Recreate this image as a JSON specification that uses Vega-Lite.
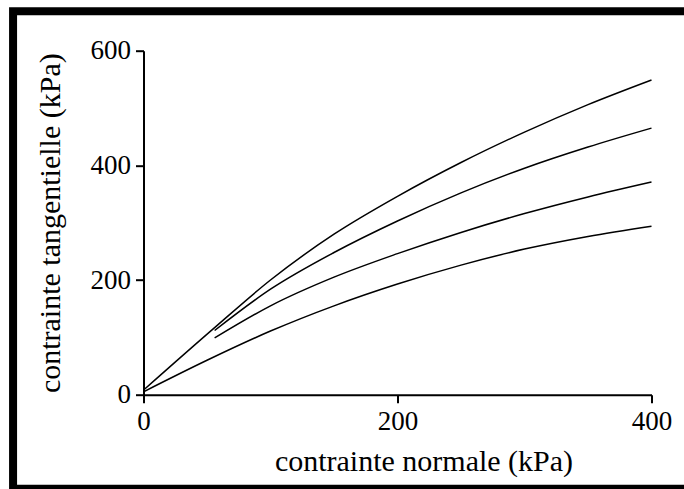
{
  "$schema": "https://vega.github.io/schema/vega-lite/v6.json",
  "autosize": "none",
  "width": 508,
  "height": 344,
  "padding": {"left": 143.5, "top": 50.7, "right": 32.5, "bottom": 94.3},
  "background": "white",
  "config": {
    "view": {"stroke": null},
    "axis": {
      "grid": false,
      "labelFlush": false,
      "domainColor": "black",
      "domainWidth": 2,
      "tickColor": "black",
      "tickWidth": 2,
      "tickSize": 8,
      "labelFont": "Liberation Serif",
      "labelFontSize": 27,
      "labelColor": "black",
      "titleFont": "Liberation Serif",
      "titleFontSize": 30,
      "titleFontWeight": "normal",
      "titleColor": "black"
    }
  },
  "encoding": {
    "x": {"field": "x", "type": "quantitative", "scale": {"domain": [0, 400], "nice": false, "zero": false},
      "axis": {"values": [0, 200, 400], "title": "contrainte normale (kPa)", "labelPadding": 6, "titleX": 280, "titleY": 76, "titleBaseline": "alphabetic", "titleAlign": "center"}},
    "y": {"field": "y", "type": "quantitative", "scale": {"domain": [0, 600], "nice": false, "zero": false},
      "axis": {"values": [0, 200, 400, 600], "title": "contrainte tangentielle (kPa)", "labelPadding": 5, "titleX": -84, "titleY": 172, "titleAngle": -90, "titleBaseline": "alphabetic", "titleAlign": "center"}}
  },
  "layer": [
    {
      "data": {"values": [{"x": -102.7, "x2": 440, "y": 669, "y2": -164}]},
      "mark": {"type": "rect", "fill": null, "stroke": "black", "strokeWidth": 8},
      "encoding": {
        "x2": {"field": "x2"},
        "y2": {"field": "y2"}
      }
    },
    {
      "data": {"values": [
        {"c": "a", "x": 0, "y": 8}, {"c": "a", "x": 56, "y": 117}, {"c": "a", "x": 100, "y": 200}, {"c": "a", "x": 150, "y": 280}, {"c": "a", "x": 200, "y": 346}, {"c": "a", "x": 250, "y": 405}, {"c": "a", "x": 300, "y": 458}, {"c": "a", "x": 350, "y": 506}, {"c": "a", "x": 400, "y": 549},
        {"c": "b", "x": 56, "y": 112}, {"c": "b", "x": 100, "y": 184}, {"c": "b", "x": 150, "y": 248}, {"c": "b", "x": 200, "y": 303}, {"c": "b", "x": 250, "y": 352}, {"c": "b", "x": 300, "y": 395}, {"c": "b", "x": 350, "y": 432}, {"c": "b", "x": 400, "y": 465},
        {"c": "c", "x": 56, "y": 99}, {"c": "c", "x": 100, "y": 155}, {"c": "c", "x": 150, "y": 205}, {"c": "c", "x": 200, "y": 246}, {"c": "c", "x": 250, "y": 283}, {"c": "c", "x": 300, "y": 316}, {"c": "c", "x": 350, "y": 345}, {"c": "c", "x": 400, "y": 371},
        {"c": "d", "x": 0, "y": 5}, {"c": "d", "x": 50, "y": 60}, {"c": "d", "x": 100, "y": 111}, {"c": "d", "x": 150, "y": 155}, {"c": "d", "x": 200, "y": 193}, {"c": "d", "x": 250, "y": 226}, {"c": "d", "x": 300, "y": 254}, {"c": "d", "x": 350, "y": 276}, {"c": "d", "x": 400, "y": 294}
      ]},
      "mark": {"type": "line", "color": "black", "strokeWidth": 1.5, "interpolate": "monotone"},
      "encoding": {
        "detail": {"field": "c"}
      }
    }
  ]
}
